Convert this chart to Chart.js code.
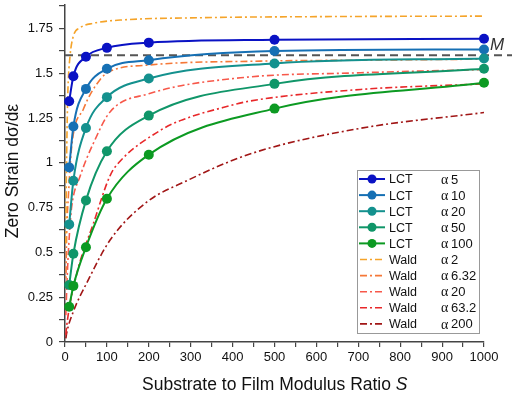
<!DOCTYPE html>
<html>
<head>
<meta charset="utf-8">
<script src="https://cdn.jsdelivr.net/npm/chart.js@4"></script>
<style>
  html, body { margin:0; padding:0; background:#fff; }
  #wrap { width:512px; height:393px; position:relative; }
</style>
</head>
<body>
<div id="wrap"><canvas id="c" width="512" height="393"></canvas></div>
<script>
// ── Data ────────────────────────────────────────────────────────
const S_LCT    = [10, 20, 50, 100, 200, 500, 1000];
const lctA5    = [1.343, 1.483, 1.591, 1.641, 1.670, 1.686, 1.692];
const lctA10   = [0.974, 1.202, 1.412, 1.524, 1.572, 1.623, 1.632];
const lctA20   = [0.656, 0.900, 1.194, 1.366, 1.470, 1.554, 1.582];
const lctA50   = [0.318, 0.492, 0.790, 1.064, 1.263, 1.440, 1.524];
const lctA100  = [0.197, 0.313, 0.529, 0.799, 1.045, 1.302, 1.446];

const S_W2     = [2, 3, 4, 5.5, 7, 12, 20, 36, 67, 132, 323, 600, 1000];
const wald2    = [0.55, 0.85, 1.05, 1.26, 1.41, 1.595, 1.707, 1.753, 1.778, 1.796, 1.809, 1.815, 1.818];
const S_W6     = [2, 4, 8, 16, 44, 84, 108, 200, 467, 700, 1000];
const wald6    = [0.30, 0.60, 0.81, 1.09, 1.30, 1.465, 1.51, 1.545, 1.567, 1.572, 1.578];
const S_W20    = [2, 5, 8, 12, 16, 36, 68, 108, 200, 419, 706, 1000];
const wald20   = [0.15, 0.35, 0.50, 0.65, 0.756, 0.924, 1.11, 1.285, 1.385, 1.474, 1.502, 1.52];
const S_W63    = [2, 4, 28, 68, 108, 132, 227, 275, 395, 443, 706, 1000];
const wald63   = [0.04, 0.09, 0.38, 0.663, 0.93, 1.01, 1.18, 1.235, 1.319, 1.345, 1.409, 1.44];
const S_W200   = [2, 4, 20, 52, 108, 195, 291, 443, 700, 1000];
const wald200  = [0.02, 0.05, 0.17, 0.33, 0.57, 0.78, 0.90, 1.05, 1.19, 1.28];

const M_VALUE  = 1.6;
const legendNames  = ['LCT','LCT','LCT','LCT','LCT','Wald','Wald','Wald','Wald','Wald'];
const alphaLabels  = ['5','10','20','50','100','2','6.32','20','63.2','200'];

// ── Styles ──────────────────────────────────────────────────────
const COL = ['#0a12c4','#1670b4','#14918e','#109669','#0c9a22',
             '#f5a42a','#f57838','#f7584a','#e8282a','#a11616'];
const DASHDOT = [7,3,2,3];
const SANS = '"Liberation Sans", Arial, sans-serif';

const xy = (xs, ys) => xs.map((x,i) => ({ x, y: ys[i] }));

const lct = [lctA5, lctA10, lctA20, lctA50, lctA100].map((ys,i) => ({
  data: xy(S_LCT, ys), showLine:true, borderColor:COL[i], backgroundColor:COL[i],
  borderWidth:2, pointRadius:5, pointHoverRadius:5, pointBorderWidth:0,
  cubicInterpolationMode:'monotone', clip:false, order:5-i,
}));
const wald = [[S_W2,wald2],[S_W6,wald6],[S_W20,wald20],[S_W63,wald63],[S_W200,wald200]].map(([xs,ys],i) => ({
  data: xy(xs, ys), showLine:true, borderColor:COL[5+i], backgroundColor:COL[5+i],
  borderWidth:1.6, borderDash:DASHDOT, pointRadius:0, cubicInterpolationMode:'monotone', order:10+i,
}));

// ── Overlay: M line, axis titles, legend ────────────────────────
const overlay = {
  id:'overlay',
  beforeDatasetsDraw(chart) {
    const { ctx, chartArea:a, scales:{ y } } = chart;
    const py = y.getPixelForValue(M_VALUE);
    ctx.save();
    ctx.strokeStyle = '#555'; ctx.lineWidth = 2; ctx.setLineDash([8,5]);
    ctx.beginPath(); ctx.moveTo(a.left, py); ctx.lineTo(chart.width, py); ctx.stroke();
    ctx.restore();
  },
  afterDraw(chart) {
    const { ctx, chartArea:a, scales:{ y } } = chart;
    ctx.save();
    // M label
    ctx.fillStyle = '#333';
    ctx.font = 'italic 17px ' + SANS; ctx.textBaseline = 'alphabetic';
    ctx.fillText('M', a.right + 6, y.getPixelForValue(M_VALUE) - 5);

    // x title with italic S
    ctx.fillStyle = '#111';
    ctx.font = '17.5px ' + SANS;
    const t1 = 'Substrate to Film Modulus Ratio ';
    const w1 = ctx.measureText(t1).width;
    const x0 = 142;
    ctx.fillText(t1, x0, 390);
    ctx.font = 'italic 17.5px ' + SANS; ctx.fillText('S', x0 + w1, 390);

    // y title
    ctx.save();
    ctx.translate(13, 171);
    ctx.rotate(-Math.PI / 2);
    ctx.font = '17.5px ' + SANS; ctx.textAlign = 'center'; ctx.textBaseline = 'middle';
    ctx.fillText('Zero Strain dσ/dε', 0, 0);
    ctx.restore();

    // legend
    const bx = 357, by = 170, bw = 122, bh = 163, rowH = 16.1, r0 = 179;
    ctx.fillStyle = '#fff'; ctx.fillRect(bx, by, bw, bh);
    ctx.strokeStyle = '#999'; ctx.lineWidth = 1; ctx.setLineDash([]);
    ctx.strokeRect(bx + 0.5, by + 0.5, bw, bh);
    legendNames.forEach((name, i) => {
      const ry = r0 + i * rowH;
      ctx.strokeStyle = COL[i];
      if (i < 5) {
        ctx.lineWidth = 2; ctx.setLineDash([]);
        ctx.beginPath(); ctx.moveTo(bx + 2, ry); ctx.lineTo(bx + 28, ry); ctx.stroke();
        ctx.fillStyle = COL[i];
        ctx.beginPath(); ctx.arc(bx + 15, ry, 4.5, 0, Math.PI * 2); ctx.fill();
      } else {
        ctx.lineWidth = 1.6; ctx.setLineDash(DASHDOT);
        ctx.beginPath(); ctx.moveTo(bx + 3, ry); ctx.lineTo(bx + 27, ry); ctx.stroke();
        ctx.setLineDash([]);
      }
      ctx.fillStyle = '#111'; ctx.textBaseline = 'middle'; ctx.textAlign = 'left';
      ctx.font = '12.5px ' + SANS;
      ctx.fillText(name, bx + 32, ry + 1);
      ctx.font = '14px "Liberation Serif", "DejaVu Serif", serif';
      ctx.fillText('α', bx + 84, ry + 1);
      ctx.font = '13px ' + SANS;
      ctx.fillText(alphaLabels[i], bx + 94, ry + 1);
    });
    ctx.restore();
  }
};

// ── Chart ───────────────────────────────────────────────────────
const tickFont = { family: SANS, size: 13 };
const isMultiple = (v, s) => Math.abs(v / s - Math.round(v / s)) < 1e-6;

new Chart(document.getElementById('c'), {
  type:'scatter',
  data:{ datasets:[...lct, ...wald] },
  options:{
    responsive:false, animation:false,
    layout:{ padding:{ top:5, right:28, left:0, bottom:0 } },
    plugins:{ legend:{ display:false }, tooltip:{ enabled:false } },
    scales:{
      x:{ type:'linear', min:0, max:1000,
        afterFit:s => { s.height = 51; s.paddingLeft = 0; s.paddingRight = 0; },
        border:{ color:'#444', width:1.5 },
        grid:{ drawOnChartArea:false, drawTicks:true, tickLength:5, color:'#444', lineWidth:1.2 },
        ticks:{ stepSize:50, autoSkip:false, maxRotation:0, color:'#111', font:tickFont, padding:3,
          callback:v => isMultiple(v,100) ? String(v) : '' } },
      y:{ type:'linear', min:0, max:1.88,
        afterFit:s => { s.width = 65; s.paddingTop = 0; s.paddingBottom = 0; },
        border:{ color:'#444', width:1.5 },
        grid:{ drawOnChartArea:false, drawTicks:true, tickLength:6, color:'#444', lineWidth:1.2 },
        ticks:{ stepSize:0.125, includeBounds:false, autoSkip:false, color:'#111', font:tickFont, padding:6,
          callback:v => isMultiple(v,0.25) ? String(Number(v.toFixed(2))) : '' } },
    },
  },
  plugins:[overlay],
});
</script>
</body>
</html>
